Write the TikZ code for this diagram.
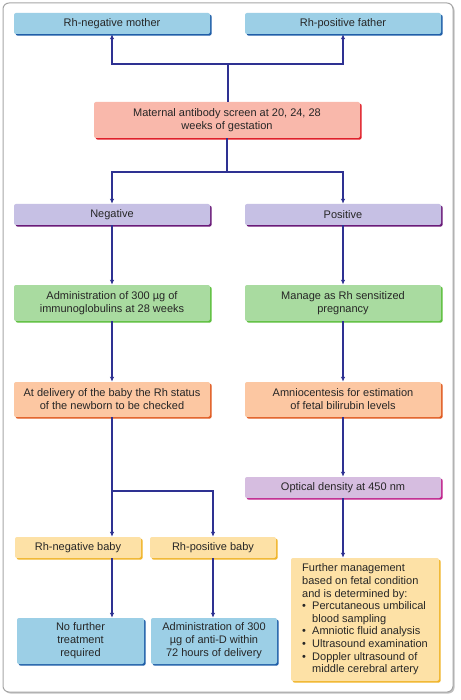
\documentclass[tikz,border=0pt]{standalone}
\usepackage{fontspec}
\setmainfont{Liberation Sans}
\definecolor{rhnavy}{HTML}{2E3192}
\definecolor{rhblue}{HTML}{9CCFE6}
\definecolor{rhblueD}{HTML}{1F5EA8}
\definecolor{rhred}{HTML}{F9B8AB}
\definecolor{rhredD}{HTML}{E0202A}
\definecolor{rhpurple}{HTML}{C6C0E4}
\definecolor{rhpurpleD}{HTML}{6A1A78}
\definecolor{rhgreen}{HTML}{A9DBA0}
\definecolor{rhgreenD}{HTML}{5CBF3C}
\definecolor{rhorange}{HTML}{FCC7A2}
\definecolor{rhorangeD}{HTML}{E05A20}
\definecolor{rhlilac}{HTML}{D6BDE0}
\definecolor{rhlilacD}{HTML}{C0208A}
\definecolor{rhyellow}{HTML}{FDE1A6}
\definecolor{rhyellowD}{HTML}{F0B428}
\usetikzlibrary{arrows.meta,positioning,shadows}

\begin{document}
\begin{tikzpicture}[x=1pt,y=-1pt,
  box/.style={rounded corners=2pt,inner sep=0pt,align=center,text=black!85,font=\fontsize{11}{13}\selectfont,minimum height=21pt},
  sbox/.style 2 args={box,fill=#1,drop shadow={shadow xshift=1.6pt,shadow yshift=-1.6pt,fill=#2,opacity=1}},
  arr/.style={-{Latex[length=5pt,width=4.5pt]},line width=1.1pt,rhnavy}]
  \useasboundingbox (0,0) rectangle (460,700);
  % outer frame
  \node[draw=black!35,line width=1pt,fill=white,rounded corners=6pt,minimum width=450pt,minimum height=689pt,
    drop shadow={shadow xshift=1.5pt,shadow yshift=-1.5pt,fill=black!30,opacity=0.8}] (frame) at (228,347.5) {};
  % parents
  \node[sbox={rhblue}{rhblueD},minimum width=196pt] (mother) at (112,23.5) {Rh-negative mother};
  \node[sbox={rhblue}{rhblueD},minimum width=196pt] (father) at (343,23.5) {Rh-positive father};
  \node[sbox={rhred}{rhredD},minimum width=266pt,minimum height=36pt] (screen) at (227,120) {Maternal antibody screen at 20, 24, 28\\weeks of gestation};
  % screening result
  \node[sbox={rhpurple}{rhpurpleD},minimum width=196pt] (neg) at (112,214.5) {Negative};
  \node[sbox={rhpurple}{rhpurpleD},minimum width=196pt] (pos) at (343,214.5) {Positive};
  \node[sbox={rhgreen}{rhgreenD},minimum width=196pt,minimum height=36pt] (admin) at (112,303) {Administration of 300 µg of\\immunoglobulins at 28 weeks};
  \node[sbox={rhgreen}{rhgreenD},minimum width=196pt,minimum height=36pt] (manage) at (343,303) {Manage as Rh sensitized\\pregnancy};
  \node[sbox={rhorange}{rhorangeD},minimum width=196pt,minimum height=35pt] (deliv) at (112,399.5) {At delivery of the baby the Rh status\\of the newborn to be checked};
  \node[sbox={rhorange}{rhorangeD},minimum width=196pt,minimum height=35pt] (amnio) at (343,399.5) {Amniocentesis for estimation\\of fetal bilirubin levels};
  \node[sbox={rhlilac}{rhlilacD},minimum width=196pt] (optical) at (343,487.5) {Optical density at 450 nm};
  % newborn
  \node[sbox={rhyellow}{rhyellowD},minimum width=126pt] (rhneg) at (78,547.5) {Rh-negative baby};
  \node[sbox={rhyellow}{rhyellowD},minimum width=126pt] (rhpos) at (213,547.5) {Rh-positive baby};
  \node[sbox={rhblue}{rhblueD},minimum width=127pt,minimum height=46pt] (nofurther) at (80.5,641) {No further\\treatment\\required};
  \node[sbox={rhblue}{rhblueD},minimum width=126pt,minimum height=46pt] (antid) at (214,641) {Administration of 300\\µg of anti-D within\\72 hours of delivery};
  \node[sbox={rhyellow}{rhyellowD},minimum width=148pt,minimum height=123pt,align=left,inner xsep=5pt,
    font=\fontsize{11}{12.6}\selectfont] (further) at (365,619.5)
    {Further management\\based on fetal condition\\and is determined by:\\
     \makebox[10pt][l]{\textbullet}Percutaneous umbilical\\\hspace*{10pt}blood sampling\\
     \makebox[10pt][l]{\textbullet}Amniotic fluid analysis\\
     \makebox[10pt][l]{\textbullet}Ultrasound examination\\
     \makebox[10pt][l]{\textbullet}Doppler ultrasound of\\\hspace*{10pt}middle cerebral artery};
  % connectors
  \coordinate (split1) at (228,64);
  \coordinate (split2) at (227,172);
  \coordinate (split3) at (112,491);
  \draw[arr] (screen.north -| split1) -- (split1) -| (mother.south);
  \draw[arr] (split1) -| (father.south);
  \draw[arr] (screen.south) -- (split2) -| (neg.north);
  \draw[arr] (split2) -| (pos.north);
  \draw[arr] (neg) -- (admin);
  \draw[arr] (pos) -- (manage);
  \draw[arr] (admin) -- (deliv);
  \draw[arr] (manage) -- (amnio);
  \draw[arr] (amnio) -- (optical);
  \draw[arr] (deliv.south -| split3) -- (split3) -- (split3 |- rhneg.north);
  \draw[arr] (split3) -| (rhpos.north);
  \draw[arr] (split3 |- rhneg.south) -- (split3 |- nofurther.north);
  \draw[arr] (rhpos.south) -- (rhpos.south |- antid.north);
  \draw[arr] (optical.south) -- (optical.south |- further.north);
\end{tikzpicture}
\end{document}
